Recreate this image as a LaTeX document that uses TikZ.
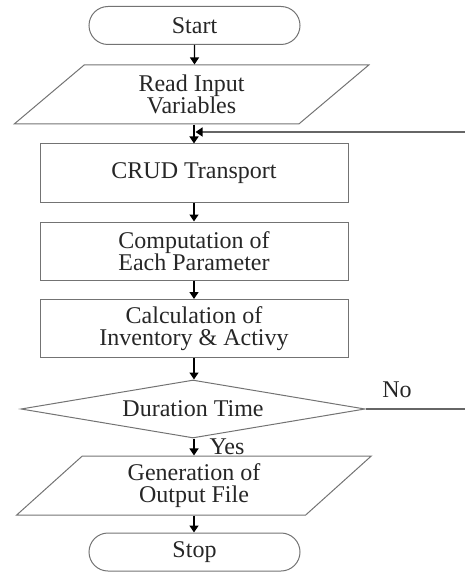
\documentclass[tikz,border=0pt]{standalone}
\usepackage{fontspec}
\setmainfont{Liberation Serif}
\usetikzlibrary{shapes.geometric,shapes.misc,arrows.meta}

\begin{document}
\begin{tikzpicture}[x=1pt,y=-1pt]
\tikzstyle{every node}+=[inner sep=0pt,font=\fontsize{24}{22}\selectfont,text=black!85]
\tikzstyle{term}=[rounded rectangle,draw=black!55,line width=1pt,minimum width=211pt,minimum height=38pt]
\tikzstyle{io}=[trapezium,trapezium left angle=48.5,trapezium right angle=131.5,trapezium stretches=true,draw=black!55,line width=1pt,minimum width=355pt,minimum height=59pt,align=center]
\tikzstyle{proc}=[rectangle,draw=black!55,line width=1pt,minimum width=308pt,minimum height=58pt,align=center]
\tikzstyle{dec}=[diamond,aspect=5.9,draw=black!55,line width=1pt,minimum width=344pt,minimum height=58pt]
\tikzstyle{arr}=[black,line width=1.3pt,-{Triangle[width=9pt,length=7pt]}]
\tikzstyle{fb}=[black!60,line width=1.3pt,-{Triangle[width=9pt,length=7pt,color=black]}]
\useasboundingbox (0,0) rectangle (464,572);
% blocks
\node [term] (start) at (194.5,25.5) {Start};
\node [io] (read) at (191.5,94.5) {Read Input\\Variables};
\node [proc] (crud) at (194,173) {CRUD Transport};
\node [proc] (comp) at (194,251) {Computation of\\Each Parameter};
\node [proc] (calc) at (194,328.5) {Calculation of\\Inventory \& Activy};
\node [dec] (dur) at (193,409) {Duration Time};
\node [io] (gen) at (194,485.5) {Generation of\\Output File};
\node [term] (stop) at (194.5,552) {Stop};
% labels
\node (no) at (397,390) {No};
\node (yes) at (227,447) {Yes};
% connectors
\draw [arr] (start) -- (start |- read.north);
\draw [arr] (read.south -| crud) -- (crud);
\draw [arr] (crud) -- (comp);
\draw [arr] (comp) -- (calc);
\draw [arr] (calc) -- (calc |- dur.north);
\draw [arr] (dur.south -| gen) -- (gen);
\draw [arr] (gen) -- (gen |- stop.north);
% loop back
\coordinate (back) at (472,132);
\coordinate (merge) at (195.5,132);
\draw [fb] (dur.east) -| (back) -- (merge);
\end{tikzpicture}
\end{document}
